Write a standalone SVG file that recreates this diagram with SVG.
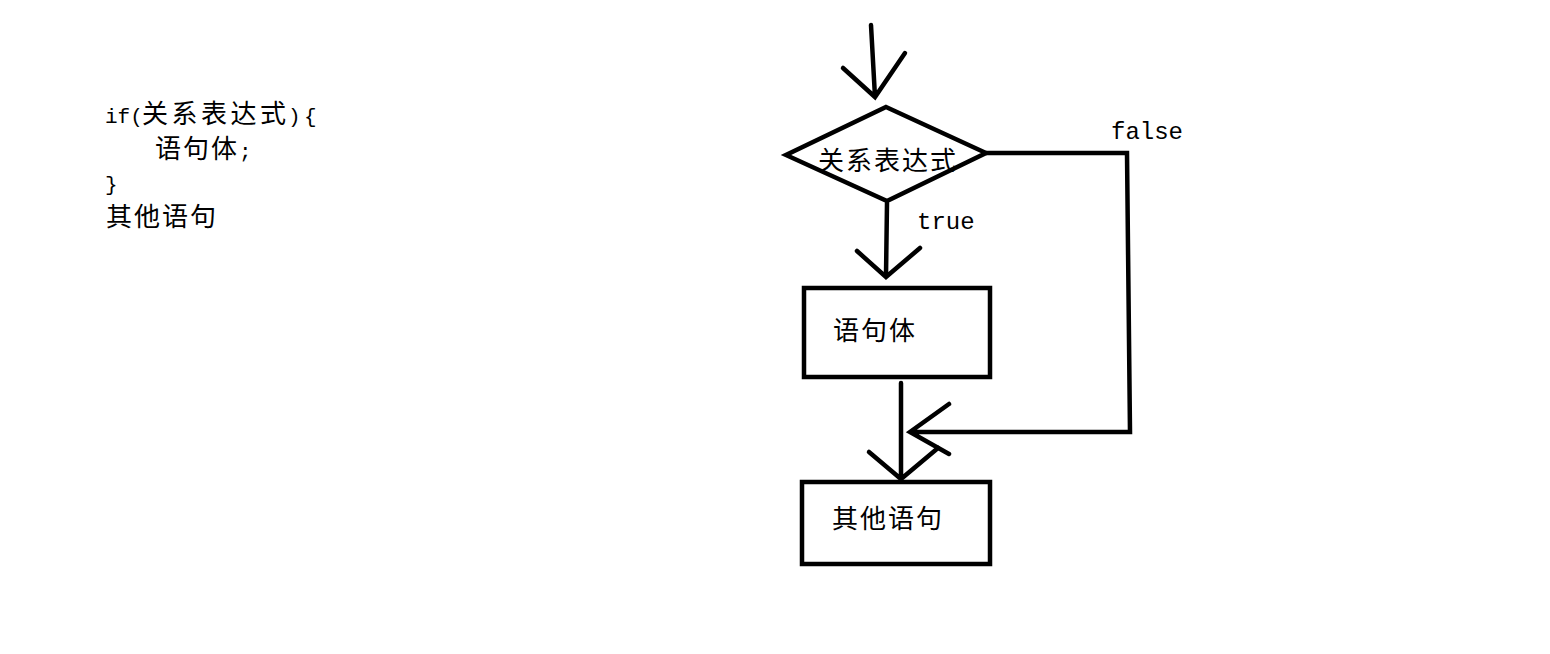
<svg xmlns="http://www.w3.org/2000/svg" width="1550" height="654" viewBox="0 0 1550 654">
<style>
.ln{fill:none;stroke:#000;stroke-width:4.5;stroke-linecap:round;stroke-linejoin:miter}
.bx{fill:#fff;stroke:#000;stroke-width:4.5}
.cj{font-family:"Noto Sans CJK SC","Liberation Serif",sans-serif;font-size:26px;letter-spacing:2px;fill:#000}
.mo{font-family:"Liberation Mono","Noto Sans CJK SC",monospace;font-size:21px;fill:#000}
.lb{font-family:"Liberation Mono","Noto Sans CJK SC",monospace;font-size:24px;fill:#000}
</style>
<rect width="1550" height="654" fill="#fff"/>
<g id="code">
<text y="123"><tspan class="mo" x="105">if(</tspan><tspan class="cj" x="142" style="letter-spacing:3.5px">关系表达式</tspan><tspan class="mo" x="288">)</tspan><tspan class="mo" x="304">{</tspan></text>
<text class="cj" x="155" y="158">语句体<tspan class="mo">;</tspan></text>
<text class="mo" x="105" y="191">}</text>
<text class="cj" x="106" y="226">其他语句</text>
</g>
<g id="connectors">
<path class="ln" d="M871,25 L875,97 M843,68 L875,97 L905,53"/>
<path class="ln" d="M887,203 L886,276 M857,251 L886,277 L920,248"/>
<path class="ln" d="M901,383 L901,480 M869,452 L901,479 L938,448"/>
<path class="ln" d="M986,153 L1127,153 L1130,432 L910,432 M949,404 L910,432 L949,454"/>
<text class="lb" x="1111" y="139">false</text>
<text class="lb" x="917" y="229">true</text>
</g>
<g id="decision">
<polygon class="bx" points="886,107 986,153 887,201 786,155"/>
<text class="cj" x="818" y="170">关系表达式</text>
</g>
<g id="body">
<rect class="bx" x="804" y="288" width="186" height="89"/>
<text class="cj" x="833" y="340">语句体</text>
</g>
<g id="other">
<rect class="bx" x="802" y="482" width="188" height="82"/>
<text class="cj" x="832" y="528">其他语句</text>
</g>
</svg>
